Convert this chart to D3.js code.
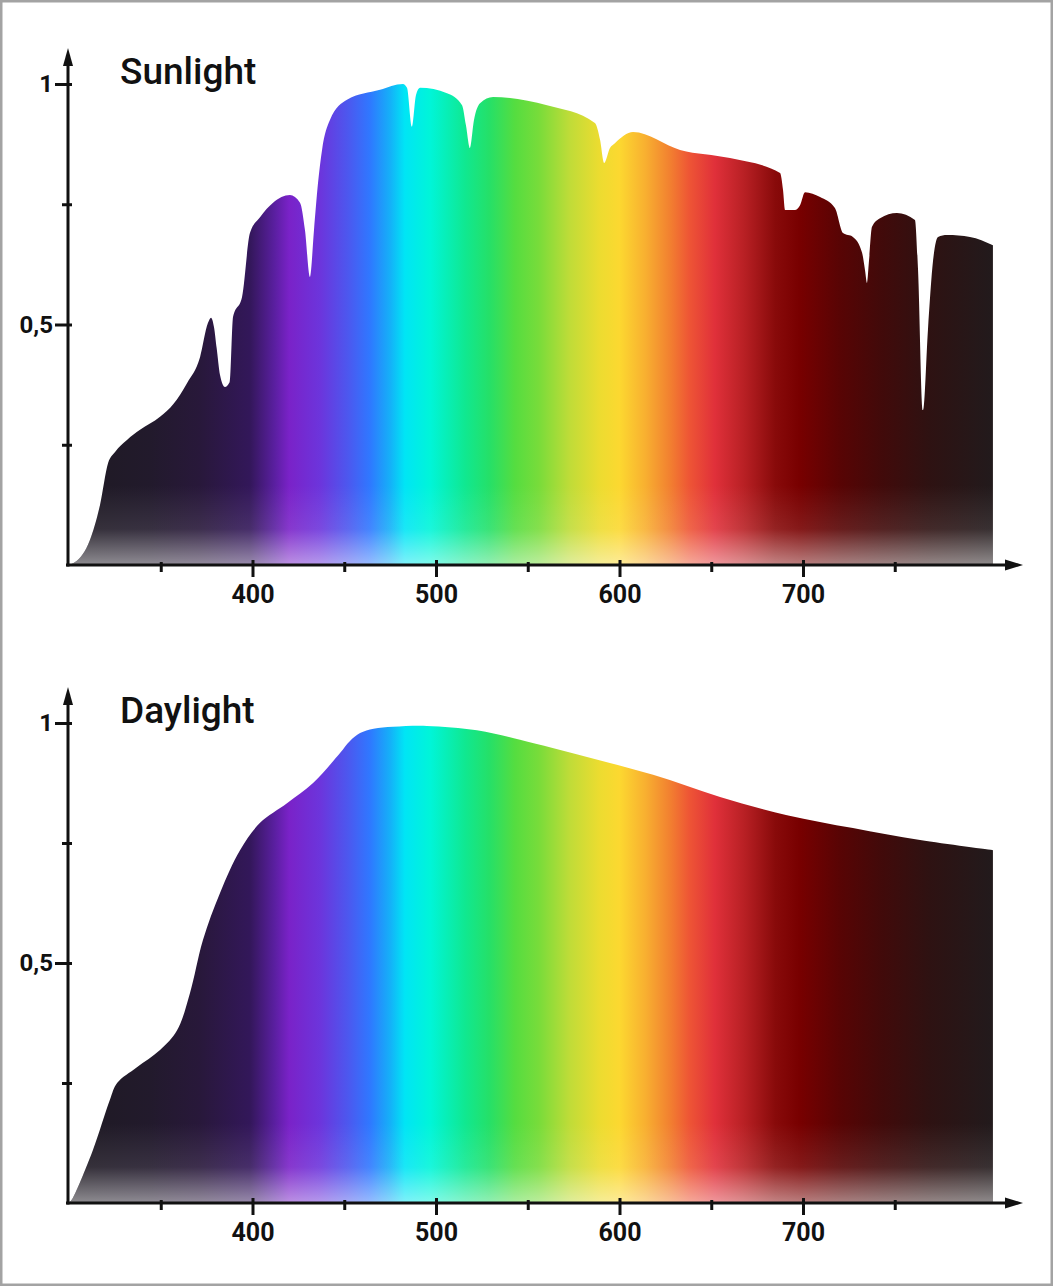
<!DOCTYPE html>
<html>
<head>
<meta charset="utf-8">
<script src="https://cdn.jsdelivr.net/npm/d3@7/dist/d3.min.js"></script>
<style>
  body { margin: 0; background: #fff; }
  svg { display: block; }
  text { font-family: Roboto, "DejaVu Sans", sans-serif; fill: #111; }
</style>
</head>
<body>
<div id="chart"></div>
<script>
// values (wavelength nm, relative intensity)
const sunWavelengths = [300, 303.3, 311.4, 316.9, 321.3, 325.1, 331.6, 338.7, 349.6, 357, 364.3, 371.4, 375.7, 377.4, 379, 380.5,
  382.3, 385, 387.5, 389.4, 394.3, 398.6, 404.1, 411.2, 420.4, 425.9, 428.6, 431.3, 433.5, 435.7, 437.9, 442.2, 451.5,
  469.5, 482, 484.2, 486.9, 489.1, 491.3, 506, 514.2, 516.3, 518.5, 520.7, 524, 531.1, 560.5, 586.6, 589.4, 591.6,
  594.8, 597.5, 607.4, 633, 660.2, 687.5, 689.1, 690.2, 695.6, 698.4, 701.1, 709.3, 717.4, 721.8, 727.2, 732.2,
  733.8, 734.9, 736, 737.6, 742, 751.2, 761, 762.7, 765.4, 768.1, 770.9, 773.6, 778.5, 791, 803.5]
const sunValues = [0, 0.006, 0.052, 0.125, 0.212, 0.235, 0.26, 0.281, 0.308, 0.335, 0.378, 0.432, 0.503, 0.514, 0.495, 0.45,
  0.395, 0.37, 0.38, 0.516, 0.557, 0.69, 0.723, 0.753, 0.769, 0.753, 0.696, 0.599, 0.696, 0.794, 0.863, 0.925, 0.967,
  0.988, 1.0, 0.992, 0.911, 0.977, 0.992, 0.981, 0.956, 0.915, 0.867, 0.925, 0.96, 0.973, 0.956, 0.919, 0.884, 0.836,
  0.867, 0.877, 0.9, 0.863, 0.846, 0.815, 0.78, 0.738, 0.738, 0.748, 0.775, 0.765, 0.742, 0.69, 0.682, 0.649,
  0.613, 0.586, 0.634, 0.703, 0.721, 0.732, 0.717, 0.613, 0.322, 0.489, 0.634, 0.682, 0.686, 0.682, 0.665]

const dayWavelengths = [300, 302, 313, 322.3, 326.2, 337, 349.6, 358.9, 365.9, 373, 382.3, 393.2, 404.1, 418.8, 433,
  447.7, 453, 458.6, 466, 476.6, 495, 522.3, 545.8, 582.3, 618.3, 654.8, 691.3, 727.2, 763.8, 803.5]
const dayValues = [0, 0.01, 0.11, 0.215, 0.25, 0.283, 0.319, 0.36, 0.437, 0.548, 0.646, 0.735, 0.792, 0.833, 0.875,
  0.9375, 0.962, 0.979, 0.988, 0.992, 0.994, 0.985, 0.965, 0.929, 0.892, 0.846, 0.808, 0.781, 0.756, 0.735]

const spectrumWavelengths = [300, 344, 371, 398.6, 412, 420, 437, 453, 464, 475, 483, 497, 516, 529, 543, 556, 573, 589,
  600, 614, 627.5, 638, 652, 668, 685, 698, 720, 742, 769, 803.5]
const spectrumColors = ["#1e1a22", "#221a2c", "#28183a", "#33175a", "#5a1fa0", "#7a22c8", "#6c35dc", "#4a5af0", "#2f78ff",
  "#15b0f8", "#00e5f5", "#00f5d8", "#10e890", "#25e068", "#55dd40", "#78dc3a", "#c0dc38", "#ecdc30", "#fcd830",
  "#f8b030", "#f28030", "#ee5535", "#e0303a", "#b82024", "#880a0a", "#780000", "#580404", "#420a0a", "#2e1212", "#221a1c"]

const xMajorTicks = [400, 500, 600, 700]
const xMinorTicks = [350, 450, 550, 650, 750]
const yMajorTicks = [0.5, 1]
const yMinorTicks = [0.25, 0.75]
const yTickLabels = ["0,5", "1"]
const titles = ["Sunlight", "Daylight"]

const width = 1053, height = 1286

const svg = d3.select("#chart").append("svg").attr("width", width).attr("height", height)
const defs = svg.append("defs")

svg.append("rect").attr("x", 1.25).attr("y", 1.25).attr("width", width - 2.5).attr("height", height - 2.5)
  .attr("fill", "#fff").attr("stroke", "#a3a3a3").attr("stroke-width", 2.5)

const x = d3.scaleLinear().domain([300, 800]).range([69, 986.5])

// horizontal rainbow, shared by both panels
const spectrum = defs.append("linearGradient").attr("id", "spectrum")
  .attr("gradientUnits", "userSpaceOnUse")
  .attr("x1", x(spectrumWavelengths[0])).attr("x2", x(spectrumWavelengths[spectrumWavelengths.length - 1]))
  .attr("y1", 0).attr("y2", 0)
const offset = d3.scaleLinear().domain(d3.extent(spectrumWavelengths)).range([0, 1])
spectrum.selectAll("stop").data(spectrumWavelengths).join("stop")
  .attr("offset", d => offset(d))
  .attr("stop-color", (d, i) => spectrumColors[i])

drawPanel({id: "sun", title: titles[0], wavelengths: sunWavelengths, values: sunValues, range: [565, 84], curve: d3.curveMonotoneX})
drawPanel({id: "day", title: titles[1], wavelengths: dayWavelengths, values: dayValues, range: [1203, 723], curve: d3.curveCatmullRom.alpha(0.5)})

function drawPanel({id, title, wavelengths, values, range, curve}) {
  const y = d3.scaleLinear().domain([0, 1]).range(range),
    data = wavelengths.map((w, i) => ({w, v: values[i]})),
    g = svg.append("g").attr("class", "panel_" + id),
    base = y(0)

  // fade to white along the baseline
  const fade = defs.append("linearGradient").attr("id", "fade_" + id)
    .attr("gradientUnits", "userSpaceOnUse")
    .attr("x1", 0).attr("x2", 0).attr("y1", base - 80).attr("y2", base)
  fade.append("stop").attr("offset", 0).attr("stop-color", "#fff").attr("stop-opacity", 0)
  fade.append("stop").attr("offset", 0.55).attr("stop-color", "#fff").attr("stop-opacity", 0.1)
  fade.append("stop").attr("offset", 1).attr("stop-color", "#fff").attr("stop-opacity", 0.5)

  const area = d3.area().x(d => x(d.w)).y0(base).y1(d => y(d.v)).curve(curve)

  g.append("path").datum(data).attr("d", area).attr("fill", "url(#spectrum)")
  g.append("path").datum(data).attr("d", area).attr("fill", `url(#fade_${id})`)

  // x axis: minor and major ticks
  const xMinor = g.append("g").attr("transform", `translate(0,${base})`)
    .call(d3.axisBottom(x).tickValues(xMinorTicks).tickFormat(""))
  xMinor.selectAll(".tick line").attr("y1", -3).attr("y2", 7)

  const xMajor = g.append("g").attr("transform", `translate(0,${base})`)
    .call(d3.axisBottom(x).tickValues(xMajorTicks).tickFormat(d3.format("d")))
  xMajor.selectAll(".tick line").attr("y1", -5).attr("y2", 12)
  xMajor.selectAll(".tick text").attr("y", 20).attr("font-size", 25).attr("font-weight", 700)
    .attr("font-family", "Roboto, 'DejaVu Sans', sans-serif").attr("fill", "#111")

  const yMinor = g.append("g").attr("transform", `translate(${x(300) - 1},0)`)
    .call(d3.axisLeft(y).tickValues(yMinorTicks).tickFormat(""))
  yMinor.selectAll(".tick line").attr("x1", -6).attr("x2", 4)

  const yMajor = g.append("g").attr("transform", `translate(${x(300) - 1},0)`)
    .call(d3.axisLeft(y).tickValues(yMajorTicks).tickFormat((d, i) => yTickLabels[i]))
  yMajor.selectAll(".tick line").attr("x1", -13).attr("x2", 4)
  yMajor.selectAll(".tick text").attr("x", -15).attr("font-size", 24).attr("font-weight", 700)
    .attr("font-family", "Roboto, 'DejaVu Sans', sans-serif").attr("fill", "#111")

  g.selectAll(".domain").remove()
  g.selectAll(".tick line").attr("stroke", "#111").attr("stroke-width", 3)

  // axis lines with arrow heads
  const ox = x(300) - 1, top = y(1) - 36, right = 1023
  g.append("line").attr("x1", ox - 2).attr("x2", right - 12).attr("y1", base).attr("y2", base)
    .attr("stroke", "#111").attr("stroke-width", 3)
  g.append("line").attr("x1", ox).attr("x2", ox).attr("y1", base + 1.5).attr("y2", top + 12)
    .attr("stroke", "#111").attr("stroke-width", 3)
  g.append("path").attr("d", `M${right},${base} L${right - 18},${base - 5.5} L${right - 18},${base + 5.5} Z`).attr("fill", "#111")
  g.append("path").attr("d", `M${ox},${top} L${ox - 5},${top + 18} L${ox + 5},${top + 18} Z`).attr("fill", "#111")

  g.append("text").attr("x", 120).attr("y", y(1)).text(title)
    .attr("font-size", 37).attr("font-weight", 500)
}
</script>
</body>
</html>
